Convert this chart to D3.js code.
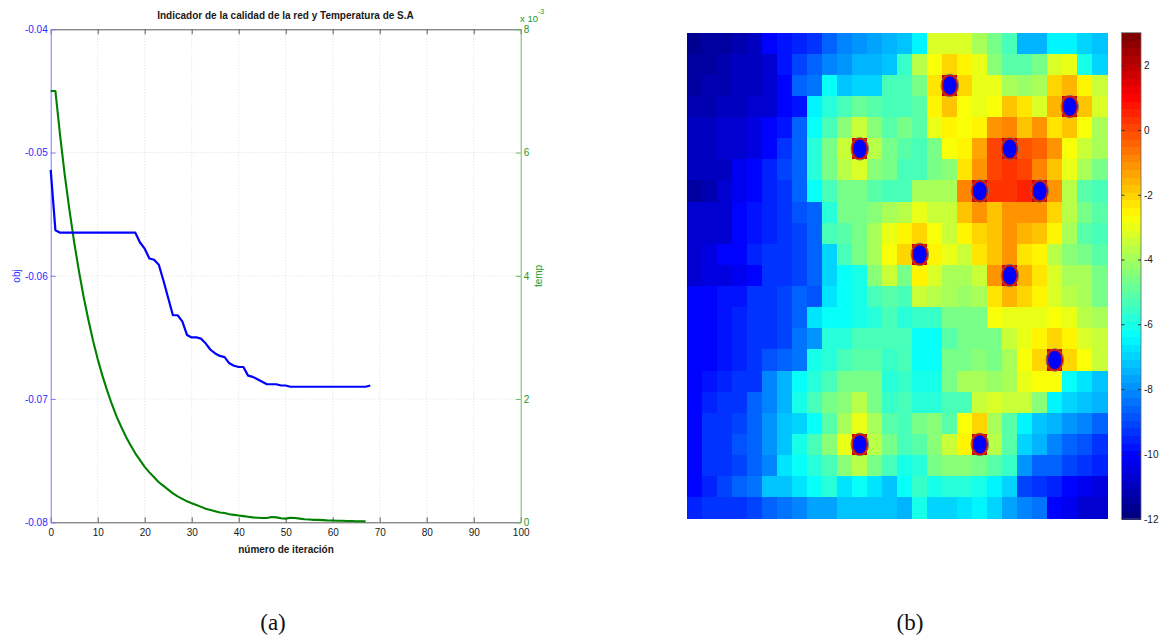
<!DOCTYPE html>
<html><head><meta charset="utf-8">
<script src="https://cdn.jsdelivr.net/npm/d3@7"></script>
<style>body{margin:0;background:#fff}svg{display:block}</style>
</head><body><svg id="c" width="1166" height="637" font-family="Liberation Sans, Arial, sans-serif"></svg>
<script>
// ---------- data: panel (a) ----------
const chartTitle = "Indicador de la calidad de la red y Temperatura de S.A";
const xLabel = "número de iteración";
const objLabel = "obj";
const tempLabel = "temp";
const xTicks = [0,10,20,30,40,50,60,70,80,90,100];
const objTicks = [-0.08,-0.07,-0.06,-0.05,-0.04];
const tempTicks = [0,2,4,6,8];
const objValues = [-0.0514,-0.0563,-0.0565,-0.0565,-0.0565,-0.0565,-0.0565,-0.0565,-0.0565,-0.0565,
  -0.0565,-0.0565,-0.0565,-0.0565,-0.0565,-0.0565,-0.0565,-0.0565,-0.0565,-0.0573,
  -0.0578,-0.0586,-0.0587,-0.0591,-0.0604,-0.0618,-0.0632,-0.0632,-0.0637,-0.0648,
  -0.0650,-0.0650,-0.0651,-0.0655,-0.0660,-0.0663,-0.0665,-0.0666,-0.0671,-0.0673,
  -0.0674,-0.0674,-0.0681,-0.0682,-0.0684,-0.0686,-0.0688,-0.0688,-0.0688,-0.0689,
  -0.0689,-0.0690,-0.0690,-0.0690,-0.0690,-0.0690,-0.0690,-0.0690,-0.0690,-0.0690,
  -0.0690,-0.0690,-0.0690,-0.0690,-0.0690,-0.0690,-0.0690,-0.0690,-0.0689];
const tempValues = [7.00,7.00,6.28,5.63,5.06,4.54,4.08,3.66,3.29,2.95,
  2.65,2.38,2.14,1.92,1.72,1.55,1.39,1.25,1.12,1.01,
  0.90,0.81,0.73,0.65,0.59,0.53,0.47,0.42,0.38,0.34,
  0.31,0.28,0.25,0.22,0.20,0.18,0.16,0.15,0.13,0.12,
  0.11,0.10,0.09,0.08,0.075,0.07,0.07,0.085,0.08,0.065,
  0.06,0.075,0.07,0.06,0.05,0.045,0.04,0.04,0.035,0.03,
  0.03,0.025,0.025,0.02,0.02,0.018,0.016,0.015];

// ---------- data: panel (b) ----------
const heatValues = [
[-11.6,-11.5,-11.3,-11.2,-11.0,-10.1,-9.7,-9.5,-9.3,-8.7,-8.1,-7.9,-7.7,-7.5,-7.2,-6.4,-3.3,-3.1,-3.3,-3.8,-4.5,-5.2,-7.5,-7.5,-6.6,-6.4,-6.9,-7.3],
[-11.5,-11.3,-11.2,-11.0,-10.9,-10.8,-9.8,-9.0,-8.6,-8.1,-7.9,-7.5,-7.5,-7.2,-5.6,-3.7,-2.7,-2.0,-2.5,-3.0,-4.3,-5.0,-5.0,-4.5,-3.2,-2.9,-6.0,-6.9],
[-11.3,-11.2,-11.1,-11.0,-10.9,-10.8,-10.1,-8.6,-8.3,-6.3,-7.3,-6.9,-6.9,-5.4,-5.4,-4.7,-2.2,1.8,-2.0,-3.0,-3.0,-4.0,-4.2,-4.0,-2.0,-1.6,-2.5,-3.5],
[-11.2,-11.1,-11.0,-10.9,-10.8,-10.6,-10.0,-9.8,-6.5,-5.7,-5.2,-4.8,-5.0,-5.3,-5.4,-5.0,-2.5,-1.8,-2.7,-2.9,-2.8,-1.8,-2.2,-3.2,-1.6,1.8,-1.8,-3.2],
[-11.0,-10.9,-10.8,-10.7,-10.5,-10.1,-9.8,-8.7,-6.2,-5.2,-4.3,-3.5,-4.3,-5.0,-4.7,-5.0,-3.0,-2.5,-2.7,-2.5,-1.1,-0.8,-1.8,-1.0,-2.2,-1.8,-2.8,-3.8],
[-11.0,-10.9,-10.8,-10.7,-10.4,-10.0,-9.4,-8.6,-5.8,-4.7,-3.5,1.8,-3.6,-4.7,-5.0,-5.3,-4.7,-2.7,-2.5,-1.4,0.1,1.8,-0.1,-0.4,-1.0,-2.7,-3.5,-4.0],
[-10.9,-10.9,-10.9,-10.3,-10.0,-9.6,-9.1,-8.6,-5.7,-4.7,-3.7,-3.2,-4.3,-4.7,-5.2,-5.2,-4.7,-4.3,-2.2,-1.0,0.1,0.3,0.1,-0.8,-1.8,-3.0,-3.8,-4.7],
[-11.3,-11.1,-10.6,-10.3,-10.1,-9.6,-9.2,-8.7,-6.3,-5.2,-4.5,-4.5,-5.0,-5.3,-5.2,-3.8,-3.8,-4.0,-0.8,1.8,0.3,0.3,0.5,1.8,-1.0,-3.6,-5.0,-5.3],
[-10.8,-10.8,-10.6,-10.1,-9.8,-9.6,-9.2,-8.9,-8.6,-5.7,-4.5,-4.5,-4.3,-3.8,-3.7,-3.0,-3.5,-3.5,-1.8,-1.2,-1.8,-1.0,-1.0,-1.0,-2.0,-3.7,-4.5,-5.0],
[-10.7,-10.7,-10.7,-10.1,-9.8,-9.6,-9.2,-9.0,-8.7,-5.4,-5.0,-4.7,-3.8,-3.0,-2.5,-2.0,-2.8,-3.5,-2.5,-2.0,-1.8,-1.2,-1.6,-1.8,-2.4,-4.0,-5.0,-5.3],
[-10.7,-10.4,-10.1,-10.0,-9.6,-9.4,-9.2,-9.0,-8.7,-6.9,-5.2,-4.7,-4.0,-2.8,-2.0,1.8,-2.4,-3.0,-3.5,-2.2,-1.8,-1.0,-2.2,-2.5,-3.6,-4.3,-4.5,-5.0],
[-10.6,-10.5,-10.4,-10.3,-10.1,-9.4,-9.2,-9.0,-8.7,-6.9,-6.3,-6.0,-4.3,-3.4,-4.5,-2.5,-3.2,-3.8,-3.8,-3.5,-1.0,1.8,-1.6,-2.2,-3.2,-3.8,-4.0,-4.5],
[-10.1,-10.0,-9.8,-9.8,-9.4,-9.2,-9.0,-8.6,-8.9,-6.7,-6.3,-6.0,-5.4,-5.0,-5.2,-3.5,-3.7,-4.0,-4.2,-4.0,-2.2,-1.6,-2.0,-2.5,-3.2,-3.7,-4.0,-4.5],
[-10.1,-10.0,-9.8,-9.6,-9.4,-9.2,-9.0,-8.7,-6.7,-6.3,-6.2,-6.0,-5.7,-5.4,-5.7,-5.5,-5.5,-4.7,-4.7,-4.5,-2.7,-3.0,-3.0,-3.0,-2.8,-3.0,-3.7,-3.8],
[-10.1,-10.0,-9.8,-9.6,-9.4,-9.2,-9.0,-8.3,-7.9,-5.7,-5.7,-5.3,-5.3,-5.3,-5.3,-6.2,-6.2,-5.0,-4.7,-4.7,-4.5,-3.5,-3.0,-2.5,-2.0,-2.5,-3.2,-3.5],
[-10.1,-10.1,-9.8,-9.6,-9.4,-8.9,-8.7,-8.3,-5.9,-5.7,-5.3,-5.0,-5.0,-5.5,-5.3,-6.2,-6.2,-4.7,-4.5,-4.3,-4.5,-4.0,-2.8,-2.0,1.8,-2.0,-2.8,-3.5],
[-10.1,-9.8,-9.6,-9.4,-9.2,-8.1,-7.5,-6.2,-5.7,-5.3,-4.7,-4.5,-4.7,-5.7,-5.5,-5.9,-5.9,-4.7,-4.0,-4.0,-4.2,-4.0,-3.0,-2.8,-2.7,-6.2,-6.7,-7.1],
[-10.1,-9.6,-9.4,-9.2,-8.6,-8.1,-7.5,-6.0,-5.2,-4.7,-4.3,-3.7,-4.7,-5.5,-5.2,-5.7,-5.7,-5.3,-5.2,-3.5,-3.2,-3.5,-3.5,-4.3,-6.5,-6.9,-7.1,-7.5],
[-10.1,-9.4,-9.4,-9.0,-8.6,-7.9,-7.3,-6.9,-6.3,-5.0,-4.0,-3.0,-4.0,-5.0,-5.2,-4.7,-4.3,-5.0,-2.7,-2.0,-4.0,-5.0,-6.5,-7.1,-7.5,-7.9,-8.1,-8.7],
[-10.1,-9.4,-9.2,-8.9,-8.6,-7.9,-7.3,-5.9,-5.2,-4.3,-3.0,1.8,-3.7,-4.7,-5.2,-5.0,-4.3,-3.5,-2.5,1.8,-3.7,-5.0,-6.9,-7.5,-8.1,-8.6,-8.9,-9.2],
[-10.1,-9.4,-9.2,-9.0,-8.6,-8.1,-6.7,-6.3,-5.7,-5.2,-4.3,-3.7,-4.7,-5.3,-5.9,-5.7,-4.5,-4.3,-4.3,-4.7,-5.0,-5.5,-7.9,-8.6,-8.7,-9.0,-9.4,-9.6],
[-10.1,-9.6,-9.0,-8.6,-8.3,-7.3,-7.1,-6.7,-6.3,-5.7,-6.7,-6.3,-6.7,-7.3,-6.3,-5.5,-6.0,-5.7,-5.7,-6.0,-6.5,-6.9,-9.0,-9.4,-9.6,-10.1,-10.3,-10.4],
[-9.6,-9.4,-9.4,-9.2,-9.0,-8.6,-8.3,-8.1,-7.7,-7.7,-7.3,-7.3,-7.3,-7.3,-7.5,-5.9,-6.9,-6.9,-6.7,-6.5,-6.9,-7.7,-8.1,-8.3,-10.1,-10.3,-10.6,-10.7]
];
const nodeCols = [17,25,11,21,19,23,15,21,24,11,19];
const nodeRows = [2,3,5,5,7,7,10,11,15,19,19];
const colorDomain = [-12, 3.02];
const cbTicks = [-12,-10,-8,-6,-4,-2,0,2];
const panelLabels = ["(a)", "(b)"];

// ---------- drawing ----------
const svg = d3.select("#c");

// Panel (a)
const L = 50.7, R = 520.7, T = 29.3, B = 522.3;
const x = d3.scaleLinear().domain([0,100]).range([L,R]);
const yObj = d3.scaleLinear().domain([-0.08,-0.04]).range([B,T]);
const yTemp = d3.scaleLinear().domain([0,8]).range([B,T]);

const grid = svg.append("g").attr("stroke","#d6d6d6").attr("stroke-width",0.8).attr("stroke-dasharray","1,2");
grid.selectAll(".vg").data(xTicks.slice(1,-1)).join("line")
  .attr("x1",d=>x(d)).attr("x2",d=>x(d)).attr("y1",T).attr("y2",B);
grid.selectAll(".hg").data(objTicks.slice(1,-1)).join("line")
  .attr("x1",L).attr("x2",R).attr("y1",d=>yObj(d)).attr("y2",d=>yObj(d));

function styleAxis(g, lineColor, textColor){
  g.attr("font-family","Liberation Sans, Arial, sans-serif").attr("font-size",10);
  g.select(".domain").attr("stroke",lineColor).attr("stroke-width",1);
  g.selectAll(".tick line").attr("stroke",lineColor);
  g.selectAll(".tick text").attr("fill",textColor);
}
const gB = svg.append("g").attr("transform",`translate(0,${B})`)
  .call(d3.axisBottom(x).tickValues(xTicks).tickSize(-5).tickSizeOuter(0).tickPadding(7));
styleAxis(gB,"#5a5a5a","#1a1a1a");
const gT = svg.append("g").attr("transform",`translate(0,${T})`)
  .call(d3.axisTop(x).tickValues(xTicks).tickSize(-5).tickSizeOuter(0).tickFormat(""));
styleAxis(gT,"#5a5a5a","#1a1a1a");
const gL = svg.append("g").attr("transform",`translate(${L},0)`)
  .call(d3.axisLeft(yObj).tickValues(objTicks).tickSize(-5).tickSizeOuter(0).tickPadding(3).tickFormat(d=>d.toFixed(2)));
styleAxis(gL,"#7a7aff","#2a2aff");
const gR = svg.append("g").attr("transform",`translate(${R},0)`)
  .call(d3.axisRight(yTemp).tickValues(tempTicks).tickSize(-5).tickSizeOuter(0).tickPadding(3));
styleAxis(gR,"#66bb66","#229922");

const lineObj = d3.line().x((d,i)=>x(i)).y(d=>yObj(d));
const lineTemp = d3.line().x((d,i)=>x(i)).y(d=>yTemp(d));
svg.append("path").datum(tempValues).attr("d",lineTemp).attr("fill","none")
  .attr("stroke","#008000").attr("stroke-width",2.1).attr("stroke-linejoin","round");
svg.append("path").datum(objValues).attr("d",lineObj).attr("fill","none")
  .attr("stroke","#0000ff").attr("stroke-width",2.2).attr("stroke-linejoin","round");

svg.append("text").attr("x",285.5).attr("y",19).attr("text-anchor","middle")
  .attr("font-size",10).attr("font-weight","bold").attr("fill","#1a1a1a").text(chartTitle);
svg.append("text").attr("x",286).attr("y",553).attr("text-anchor","middle")
  .attr("font-size",10).attr("font-weight","bold").attr("fill","#1a1a1a").text(xLabel);
svg.append("text").attr("transform","translate(20,276) rotate(-90)").attr("text-anchor","middle")
  .attr("font-size",10).attr("fill","#2a2aff").text(objLabel);
svg.append("text").attr("transform","translate(542,276) rotate(-90)").attr("text-anchor","middle")
  .attr("font-size",10).attr("fill","#229922").text(tempLabel);
const ex = svg.append("text").attr("x",520).attr("y",22).attr("font-size",9.5).attr("fill","#229922");
ex.append("tspan").text("x 10");
ex.append("tspan").attr("font-size",7).attr("dy",-8).text("-3");

// Panel (b)
function jet(t){
  const c = v => Math.max(0, Math.min(1, v));
  return d3.rgb(255*c(1.5-Math.abs(4*t-3)), 255*c(1.5-Math.abs(4*t-2)), 255*c(1.5-Math.abs(4*t-1))).formatHex();
}
const jetColors = d3.range(64).map(i => jet(i/63));
const color = d3.scaleQuantize().domain(colorDomain).range(jetColors);

const nRows = heatValues.length, nCols = heatValues[0].length;
const xb = d3.scaleBand().domain(d3.range(nCols)).range([687.3,1107.3]);
const yb = d3.scaleBand().domain(d3.range(nRows)).range([32.7,518.3]);
const cells = heatValues.flatMap((row,r)=>row.map((v,c)=>({r,c,v})));
svg.append("g").attr("shape-rendering","crispEdges").selectAll("rect").data(cells).join("rect")
  .attr("x",d=>xb(d.c)).attr("y",d=>yb(d.r))
  .attr("width",xb.bandwidth()+0.4).attr("height",yb.bandwidth()+0.4)
  .attr("fill",d=>color(d.v));

const nodes = nodeCols.map((c,i)=>({c, r:nodeRows[i]}));
const ng = svg.append("g");
ng.selectAll(".o").data(nodes).join("ellipse")
  .attr("cx",d=>xb(d.c)+xb.bandwidth()/2).attr("cy",d=>yb(d.r)+yb.bandwidth()/2)
  .attr("rx",8.8).attr("ry",11.3).attr("fill","none").attr("stroke","#7d7d6a").attr("stroke-width",1);
ng.selectAll(".i").data(nodes).join("ellipse")
  .attr("cx",d=>xb(d.c)+xb.bandwidth()/2).attr("cy",d=>yb(d.r)+yb.bandwidth()/2)
  .attr("rx",7.6).attr("ry",10).attr("fill","#0000ff").attr("stroke","#d81000").attr("stroke-width",1.6);

// Colorbar
const cbX = 1121.5, cbW = 19.5;
const yc = d3.scaleLinear().domain(colorDomain).range([519,32.7]);
const step = (colorDomain[1]-colorDomain[0])/64;
svg.append("g").attr("shape-rendering","crispEdges").selectAll("rect").data(jetColors).join("rect")
  .attr("x",cbX).attr("width",cbW)
  .attr("y",(d,i)=>yc(colorDomain[0]+(i+1)*step))
  .attr("height",(d,i)=>yc(colorDomain[0]+i*step)-yc(colorDomain[0]+(i+1)*step)+0.5)
  .attr("fill",d=>d);
svg.append("rect").attr("x",cbX).attr("y",32.7).attr("width",cbW).attr("height",519-32.7)
  .attr("fill","none").attr("stroke","#6a6a6a").attr("stroke-width",0.8);
const cbt = svg.append("g").selectAll("g").data(cbTicks).join("g");
cbt.append("line").attr("x1",cbX).attr("x2",cbX+3).attr("y1",d=>yc(d)).attr("y2",d=>yc(d)).attr("stroke","#333");
cbt.append("line").attr("x1",cbX+cbW-3).attr("x2",cbX+cbW).attr("y1",d=>yc(d)).attr("y2",d=>yc(d)).attr("stroke","#333");
cbt.append("text").attr("x",cbX+cbW+3).attr("y",d=>yc(d)+3.5).attr("font-size",10).attr("fill","#1a1a1a")
  .text(d=>String(d));

// Panel labels
svg.selectAll(".pl").data(panelLabels).join("text")
  .attr("x",(d,i)=>[273,910][i]).attr("y",630).attr("text-anchor","middle")
  .style("font-family",'"Liberation Serif","DejaVu Serif",serif').attr("font-size",23).attr("fill","#111")
  .text(d=>d);
</script></body></html>
